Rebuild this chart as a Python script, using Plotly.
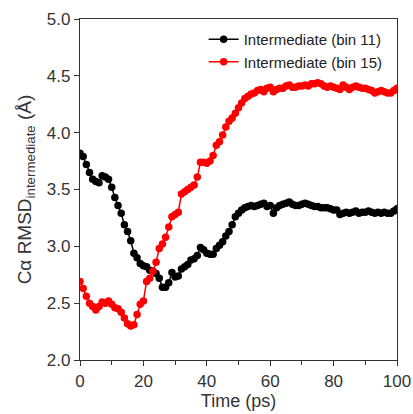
import plotly.graph_objects as go

time_ps = list(range(0, 101))

bin11 = [3.82, 3.79, 3.72, 3.65, 3.59, 3.57, 3.56, 3.62, 3.61, 3.59,
         3.52, 3.43, 3.36, 3.29, 3.19, 3.13, 3.05, 2.94, 2.90, 2.85,
         2.83, 2.82, 2.79, 2.78, 2.76, 2.72, 2.64, 2.64, 2.68, 2.77,
         2.73, 2.74, 2.80, 2.82, 2.84, 2.88, 2.89, 2.92, 2.99, 2.97,
         2.94, 2.93, 2.93, 2.98, 3.01, 3.04, 3.09, 3.13, 3.19, 3.26,
         3.29, 3.32, 3.34, 3.35, 3.36, 3.35, 3.36, 3.37, 3.38, 3.35,
         3.36, 3.29, 3.34, 3.36, 3.37, 3.38, 3.39, 3.37, 3.36, 3.36,
         3.37, 3.38, 3.37, 3.36, 3.35, 3.35, 3.34, 3.34, 3.34, 3.33,
         3.32, 3.32, 3.28, 3.29, 3.30, 3.29, 3.30, 3.31, 3.29, 3.30,
         3.30, 3.31, 3.30, 3.29, 3.30, 3.29, 3.30, 3.29, 3.29, 3.31,
         3.33]

bin15 = [2.69, 2.63, 2.56, 2.50, 2.47, 2.44, 2.47, 2.51, 2.50, 2.52,
         2.49, 2.46, 2.45, 2.42, 2.37, 2.32, 2.30, 2.31, 2.40, 2.49,
         2.52, 2.69, 2.72, 2.78, 2.86, 2.98, 3.02, 3.08, 3.17, 3.26,
         3.28, 3.30, 3.46, 3.48, 3.50, 3.52, 3.54, 3.61, 3.74, 3.74,
         3.73, 3.75, 3.80, 3.89, 3.92, 3.98, 4.05, 4.10, 4.13, 4.17,
         4.22, 4.26, 4.30, 4.32, 4.34, 4.35, 4.37, 4.38, 4.36, 4.39,
         4.40, 4.36, 4.38, 4.39, 4.39, 4.41, 4.42, 4.40, 4.40, 4.41,
         4.41, 4.42, 4.41, 4.43, 4.43, 4.44, 4.43, 4.41, 4.40, 4.41,
         4.40, 4.39, 4.38, 4.42, 4.40, 4.38, 4.40, 4.41, 4.40, 4.39,
         4.39, 4.38, 4.37, 4.35, 4.36, 4.37, 4.36, 4.35, 4.35, 4.37,
         4.39]

series_names = ["Intermediate (bin 11)", "Intermediate (bin 15)"]
series_colors = ["black", "red"]

x_ticks = [0, 20, 40, 60, 80, 100]
x_minor = [10, 30, 50, 70, 90]
y_ticks = [2.0, 2.5, 3.0, 3.5, 4.0, 4.5, 5.0]

fig = go.Figure()
for name, vals, col in zip(series_names, [bin11, bin15], series_colors):
    fig.add_trace(go.Scatter(
        x=time_ps, y=vals, mode="lines+markers", name=name,
        line=dict(color=col, width=1.5),
        marker=dict(color=col, size=7.5),
    ))

font_family = "Liberation Sans, Arial, sans-serif"
axis_color = "#333333"

fig.update_layout(
    width=413, height=414,
    margin=dict(l=80, r=16, t=19, b=54),
    paper_bgcolor="white", plot_bgcolor="white",
    font=dict(family=font_family, size=17, color="#333333"),
    showlegend=True,
    legend=dict(
        x=0.39, y=0.988, xanchor="left", yanchor="top",
        bgcolor="rgba(0,0,0,0)", borderwidth=0,
        font=dict(size=15, color="#222222"),
        itemwidth=30, tracegroupgap=0,
    ),
    xaxis=dict(
        range=[0, 100], tickvals=x_ticks, ticks="outside", ticklen=5,
        tickwidth=1, tickcolor=axis_color, automargin=False,
        showline=True, linecolor=axis_color, linewidth=1.2, mirror=True,
        showgrid=False, zeroline=False,
        minor=dict(tickvals=x_minor, ticks="outside", ticklen=4,
                   tickcolor=axis_color, showgrid=False),
        title=dict(text="Time (ps)", standoff=4, font=dict(size=18)),
        tickfont=dict(size=17),
    ),
    yaxis=dict(
        range=[2, 5], tickvals=y_ticks, tickformat=".1f", ticks="outside",
        ticklen=5, tickwidth=1, tickcolor=axis_color, automargin=False,
        showline=True, linecolor=axis_color, linewidth=1.2, mirror=True,
        showgrid=False, zeroline=False,
        title=dict(text="Cα RMSD<sub>intermediate</sub> (Å)", standoff=10,
                   font=dict(size=19)),
        tickfont=dict(size=17),
    ),
)

fig.write_html("out.html")
